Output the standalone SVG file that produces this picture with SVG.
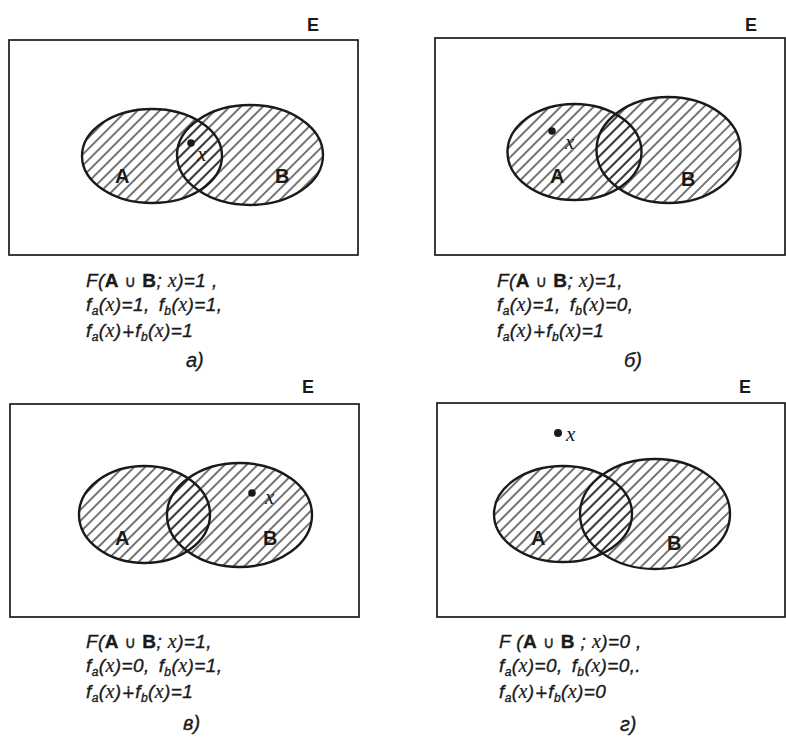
<svg xmlns="http://www.w3.org/2000/svg" width="786" height="739" viewBox="0 0 786 739">
<defs>
<pattern id="hatch" patternUnits="userSpaceOnUse" width="7.8" height="7.8" patternTransform="rotate(45)">
<line x1="3.9" y1="-1" x2="3.9" y2="8.8" stroke="#1a1a1a" stroke-width="1.2"/>
</pattern>
</defs>
<style>
.frame{fill:none;stroke:#1a1a1a;stroke-width:1.7}
.fill{fill:url(#hatch);stroke:none}
.edge{fill:none;stroke:#1a1a1a;stroke-width:2.4}
.lbl{font-family:"Liberation Sans",Arial,sans-serif;font-weight:bold;font-size:20px;fill:#1a1a1a}
.E{font-family:"Liberation Sans",Arial,sans-serif;font-weight:bold;font-size:18px;fill:#1a1a1a}
.dot{fill:#1a1a1a}
.xv{font-family:"Liberation Serif","Times New Roman",serif;font-style:italic;font-size:21px;fill:#1a1a1a}
.t{font-family:"Liberation Sans",Arial,sans-serif;font-style:italic;font-size:19px;fill:#1a1a1a;letter-spacing:0.4px;stroke:#1a1a1a;stroke-width:0.35}
.t .xv{stroke-width:0.2;font-size:20px}
.b{font-style:normal;font-weight:bold}
.sym{font-family:"DejaVu Sans",sans-serif;font-style:normal;font-size:16px}
.sub{font-size:12px}
.cap{font-family:"Liberation Sans",Arial,sans-serif;font-style:italic;font-size:20px;fill:#1a1a1a;stroke:#1a1a1a;stroke-width:0.35}
</style>

<g id="panel-a">
<rect class="frame" x="9" y="40" width="349" height="215"/>
<text class="E" x="307" y="31">E</text>
<ellipse class="fill" cx="152" cy="156" rx="70" ry="47"/>
<ellipse class="fill" cx="250" cy="155" rx="73" ry="50"/>
<ellipse class="edge" cx="152" cy="156" rx="70" ry="47"/>
<ellipse class="edge" cx="250" cy="155" rx="73" ry="50"/>
<text class="lbl" x="115" y="183">A</text>
<text class="lbl" x="275" y="183">B</text>
<circle class="dot" cx="191" cy="143" r="3.8"/>
<text class="xv" x="197" y="161">x</text>
<text class="t" x="86" y="287">F(<tspan class="b">A</tspan> <tspan class="sym">∪</tspan> <tspan class="b">B</tspan>; <tspan class="xv">x</tspan>)=1 ,</text>
<text class="t" x="86" y="311">f<tspan class="sub" dy="4">a</tspan><tspan dy="-4">(</tspan><tspan class="xv">x</tspan>)=1,<tspan dx="9">f</tspan><tspan class="sub" dy="4">b</tspan><tspan dy="-4">(</tspan><tspan class="xv">x</tspan>)=1,</text>
<text class="t" x="86" y="337">f<tspan class="sub" dy="4">a</tspan><tspan dy="-4">(</tspan><tspan class="xv">x</tspan>)<tspan class="sym">∔</tspan>f<tspan class="sub" dy="4">b</tspan><tspan dy="-4">(</tspan><tspan class="xv">x</tspan>)=1</text>
<text class="cap" x="186" y="367">а)</text>
</g>

<g id="panel-b">
<rect class="frame" x="435" y="38" width="350" height="217"/>
<text class="E" x="745" y="31">E</text>
<ellipse class="fill" cx="574.5" cy="152" rx="67" ry="48"/>
<ellipse class="fill" cx="668.5" cy="150" rx="72" ry="53"/>
<ellipse class="edge" cx="574.5" cy="152" rx="67" ry="48"/>
<ellipse class="edge" cx="668.5" cy="150" rx="72" ry="53"/>
<text class="lbl" x="550" y="183">A</text>
<text class="lbl" x="681" y="186">B</text>
<circle class="dot" cx="552" cy="131" r="3.8"/>
<text class="xv" x="565" y="149">x</text>
<text class="t" x="497" y="287">F(<tspan class="b">A</tspan> <tspan class="sym">∪</tspan> <tspan class="b">B</tspan>; <tspan class="xv">x</tspan>)=1,</text>
<text class="t" x="497" y="311">f<tspan class="sub" dy="4">a</tspan><tspan dy="-4">(</tspan><tspan class="xv">x</tspan>)=1,<tspan dx="9">f</tspan><tspan class="sub" dy="4">b</tspan><tspan dy="-4">(</tspan><tspan class="xv">x</tspan>)=0,</text>
<text class="t" x="497" y="337">f<tspan class="sub" dy="4">a</tspan><tspan dy="-4">(</tspan><tspan class="xv">x</tspan>)<tspan class="sym">∔</tspan>f<tspan class="sub" dy="4">b</tspan><tspan dy="-4">(</tspan><tspan class="xv">x</tspan>)=1</text>
<text class="cap" x="624" y="367">б)</text>
</g>

<g id="panel-c">
<rect class="frame" x="10" y="404" width="349" height="213"/>
<text class="E" x="302" y="393">E</text>
<ellipse class="fill" cx="144.5" cy="514.5" rx="65.5" ry="48.5"/>
<ellipse class="fill" cx="239.5" cy="515" rx="72.5" ry="52"/>
<ellipse class="edge" cx="144.5" cy="514.5" rx="65.5" ry="48.5"/>
<ellipse class="edge" cx="239.5" cy="515" rx="72.5" ry="52"/>
<text class="lbl" x="115" y="545">A</text>
<text class="lbl" x="263" y="545">B</text>
<circle class="dot" cx="252" cy="493" r="3.8"/>
<text class="xv" x="265" y="504">x</text>
<text class="t" x="86" y="648">F(<tspan class="b">A</tspan> <tspan class="sym">∪</tspan> <tspan class="b">B</tspan>; <tspan class="xv">x</tspan>)=1,</text>
<text class="t" x="86" y="672">f<tspan class="sub" dy="4">a</tspan><tspan dy="-4">(</tspan><tspan class="xv">x</tspan>)=0,<tspan dx="9">f</tspan><tspan class="sub" dy="4">b</tspan><tspan dy="-4">(</tspan><tspan class="xv">x</tspan>)=1,</text>
<text class="t" x="86" y="698">f<tspan class="sub" dy="4">a</tspan><tspan dy="-4">(</tspan><tspan class="xv">x</tspan>)<tspan class="sym">∔</tspan>f<tspan class="sub" dy="4">b</tspan><tspan dy="-4">(</tspan><tspan class="xv">x</tspan>)=1</text>
<text class="cap" x="183" y="730">в)</text>
</g>

<g id="panel-d">
<rect class="frame" x="437" y="403" width="348" height="214"/>
<text class="E" x="739" y="393">E</text>
<ellipse class="fill" cx="563" cy="514" rx="69" ry="48"/>
<ellipse class="fill" cx="655" cy="514" rx="75" ry="55"/>
<ellipse class="edge" cx="563" cy="514" rx="69" ry="48"/>
<ellipse class="edge" cx="655" cy="514" rx="75" ry="55"/>
<text class="lbl" x="531" y="545">A</text>
<text class="lbl" x="667" y="550">B</text>
<circle class="dot" cx="558" cy="433" r="4"/>
<text class="xv" x="566" y="441">x</text>
<text class="t" x="499" y="648">F (<tspan class="b">A</tspan> <tspan class="sym">∪</tspan> <tspan class="b">B</tspan> ; <tspan class="xv">x</tspan>)=0 ,</text>
<text class="t" x="499" y="672">f<tspan class="sub" dy="4">a</tspan><tspan dy="-4">(</tspan><tspan class="xv">x</tspan>)=0,<tspan dx="9">f</tspan><tspan class="sub" dy="4">b</tspan><tspan dy="-4">(</tspan><tspan class="xv">x</tspan>)=0,.</text>
<text class="t" x="499" y="698">f<tspan class="sub" dy="4">a</tspan><tspan dy="-4">(</tspan><tspan class="xv">x</tspan>)<tspan class="sym">∔</tspan>f<tspan class="sub" dy="4">b</tspan><tspan dy="-4">(</tspan><tspan class="xv">x</tspan>)=0</text>
<text class="cap" x="620" y="731">г)</text>
</g>
</svg>
